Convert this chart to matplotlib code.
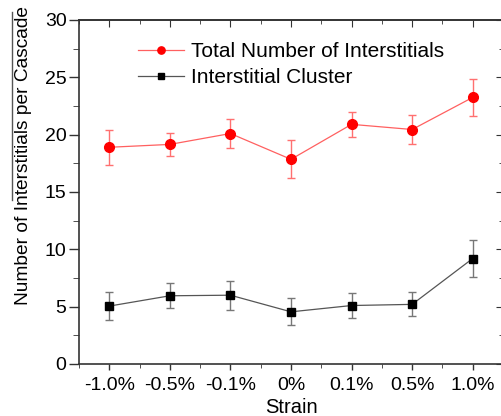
import numpy as np
import matplotlib
matplotlib.use("Agg")
from matplotlib import pyplot as plt
from matplotlib.lines import Line2D
from matplotlib.ticker import MultipleLocator

plt.rcParams["font.family"] = ["Liberation Sans", "DejaVu Sans"]

# data
strain_labels = ["-1.0%", "-0.5%", "-0.1%", "0%", "0.1%", "0.5%", "1.0%"]
total_mean = [18.9, 19.15, 20.1, 17.85, 20.9, 20.45, 23.25]
total_err = [1.55, 1.0, 1.3, 1.65, 1.1, 1.25, 1.6]
cluster_mean = [5.05, 5.95, 6.0, 4.55, 5.1, 5.2, 9.2]
cluster_err = [1.22, 1.1, 1.27, 1.18, 1.12, 1.05, 1.6]

x = np.arange(1, len(strain_labels) + 1)

fig = plt.figure(figsize=(5.01, 4.16), dpi=100)
ax = fig.add_axes([79 / 501, 52 / 416, 424 / 501, 344 / 416])

# error bars first, then lines + markers on top
ax.errorbar(x, total_mean, yerr=total_err, fmt="none", ecolor="#ff7070",
            elinewidth=1.0, capsize=3, capthick=1.0)
ax.errorbar(x, cluster_mean, yerr=cluster_err, fmt="none", ecolor="#777777",
            elinewidth=1.0, capsize=3, capthick=1.0)
ax.plot(x, total_mean, color="#ff6060", lw=0.9, marker="o", markersize=7,
        markerfacecolor="#ff0000", markeredgecolor="#ff0000",
        label="Total Number of Interstitials")
ax.plot(x, cluster_mean, color="#555555", lw=0.9, marker="s", markersize=6,
        markerfacecolor="black", markeredgecolor="black",
        label="Interstitial Cluster")

ax.set_xlim(0.5, 7.5)
ax.set_ylim(0, 30)
ax.set_xticks(x)
ax.set_xticklabels(strain_labels)
ax.xaxis.set_minor_locator(MultipleLocator(0.5))
ax.yaxis.set_major_locator(MultipleLocator(5))
ax.yaxis.set_minor_locator(MultipleLocator(2.5))

for side in ["left", "bottom", "top", "right"]:
    ax.spines[side].set_color("#333333")
    ax.spines[side].set_linewidth(1.2)

ax.tick_params(axis="both", which="major", labelsize=14, color="#333333", width=1.0)
ax.tick_params(axis="y", which="major", direction="out", length=7, pad=2)
ax.tick_params(axis="y", which="minor", direction="out", length=4, color="#333333")
ax.tick_params(axis="x", which="major", direction="out", length=4, pad=5)
ax.tick_params(axis="x", which="minor", direction="out", length=3, color="#333333")

# mirrored ticks pointing inward on top and right
ax_top = ax.secondary_xaxis("top")
ax_top.set_xticks(x)
ax_top.xaxis.set_minor_locator(MultipleLocator(0.5))
ax_top.tick_params(which="major", direction="in", length=5, labeltop=False, color="#333333")
ax_top.tick_params(which="minor", direction="in", length=3, color="#333333")
ax_top.spines["top"].set_linewidth(1.2)
ax_top.spines["top"].set_color("#333333")

ax_right = ax.secondary_yaxis("right")
ax_right.yaxis.set_major_locator(MultipleLocator(5))
ax_right.yaxis.set_minor_locator(MultipleLocator(2.5))
ax_right.tick_params(which="major", direction="in", length=5, labelright=False, color="#333333")
ax_right.tick_params(which="minor", direction="in", length=3, color="#333333")

ax.set_xlabel("Strain", fontsize=14.5, labelpad=3)
ax.set_ylabel("Number of Interstitials per Cascade", fontsize=13.8)
ax.yaxis.set_label_coords(-0.112, 0.605)

ax.legend(loc="upper left", bbox_to_anchor=(0.095, 0.99), frameon=False,
          fontsize=15, handlelength=2.2, handletextpad=0.35, labelspacing=0.35,
          numpoints=1, markerscale=0.75)

# stray vertical rule at the top left of the source image
fig.add_artist(Line2D([12 / 501, 12 / 501], [1 - 12 / 416, 1 - 200 / 416],
                      transform=fig.transFigure, color="#555555", lw=1.0))

fig.savefig("out.png", dpi=100)
